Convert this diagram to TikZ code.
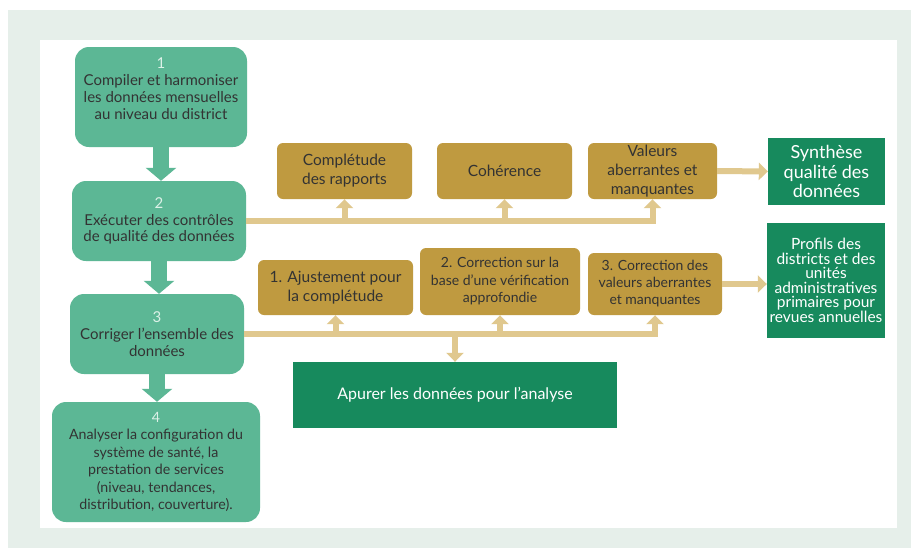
\documentclass[tikz,border=0pt]{standalone}
\usepackage{fontspec}
\setmainfont{Lato}
\usepackage{xcolor}
\usetikzlibrary{arrows.meta, positioning}

\definecolor{pagebg}{HTML}{E6EFEA}
\definecolor{stepgreen}{HTML}{5CB795}
\definecolor{stepnum}{HTML}{DDF1E8}
\definecolor{checkgold}{HTML}{BF9A40}
\definecolor{linktan}{HTML}{E0C88E}
\definecolor{outgreen}{HTML}{178A5D}
\definecolor{textdark}{HTML}{333333}

\begin{document}
\begin{tikzpicture}[
    x=1pt, y=-1pt,
    stepbox/.style={fill=stepgreen, rounded corners=14pt, align=center, text=textdark, inner sep=1pt, font=\fontsize{15}{16.8}\selectfont},
    checkbox/.style={fill=checkgold, rounded corners=6pt, align=center, text=textdark, inner sep=1pt, font=\fontsize{15.5}{19}\selectfont},
    outbox/.style={fill=outgreen, align=center, text=white, inner sep=1pt, font=\fontsize{18}{19.5}\selectfont},
    flow/.style={draw=stepgreen, line width=16pt, -{Triangle[width=30pt,length=13pt]}},
    feed/.style={draw=linktan, line width=6pt},
    feedarrow/.style={feed, -{Triangle[width=17pt,length=9pt]}}
]
    \useasboundingbox (0,0) rectangle (919,555);
    \fill[pagebg] (8,10) rectangle (911,548);
    \fill[white] (40,40) rectangle (897,528);

    % Main steps
    \node[stepbox, minimum width=172pt, minimum height=100pt] (compile) at (161,97) {{\color{stepnum}1}\\Compiler et harmoniser\\les données mensuelles\\au niveau du district\\~};
    \node[stepbox, minimum width=174pt, minimum height=80pt] (check) at (159,221) {{\color{stepnum}2}\\Exécuter des contrôles\\de qualité des données};
    \node[stepbox, minimum width=174pt, minimum height=80pt] (correct) at (157,334) {{\color{stepnum}3}\\Corriger l'ensemble des\\données};
    \node[stepbox, minimum width=208pt, minimum height=120pt, font=\fontsize{14.2}{17.5}\selectfont] (analyse) at (156,462) {{\color{stepnum}4}\\Analyser la configuration du\\système de santé, la\\prestation de services\\(niveau, tendances,\\distribution, couverture).};

    % Quality checks
    \node[checkbox, minimum width=135pt, minimum height=56pt] (completude) at (344.5,171) {Complétude\\des rapports};
    \node[checkbox, minimum width=135pt, minimum height=56pt] (coherence) at (504.5,171) {Cohérence};
    \node[checkbox, minimum width=129pt, minimum height=56pt] (valeurs) at (652.5,171) {Valeurs\\aberrantes et\\manquantes};

    % Corrections
    \node[checkbox, minimum width=155pt, minimum height=55pt] (ajust) at (335.5,287.5) {1. Ajustement pour\\la complétude};
    \node[checkbox, minimum width=160pt, minimum height=67pt, font=\fontsize{14}{17.5}\selectfont] (verif) at (500,281.5) {2. Correction sur la\\base d'une vérification\\approfondie};
    \node[checkbox, minimum width=134pt, minimum height=62pt, font=\fontsize{14}{17}\selectfont] (aberr) at (655,284) {3. Correction des\\valeurs aberrantes\\et manquantes};

    % Outputs
    \node[outbox, minimum width=117pt, minimum height=67pt] (synthese) at (826.5,171.5) {Synthèse\\qualité des\\données};
    \node[outbox, minimum width=118pt, minimum height=115pt, font=\fontsize{15.5}{14.5}\selectfont] (profils) at (826,280.5) {Profils des\\districts et des\\unités\\administratives\\primaires pour\\revues annuelles};
    \node[outbox, minimum width=324pt, minimum height=66pt, font=\fontsize{16}{19}\selectfont] (apurer) at (455,395) {Apurer les données pour l'analyse};

    % Step arrows
    \draw[flow] (compile.south) -- (compile.south |- check.north);
    \draw[flow] (check.south) -- (check.south |- correct.north);
    \draw[flow] (correct.south) -- (correct.south |- analyse.north);

    % Checks branch
    \draw[feedarrow] (check.east) -| (valeurs.south);
    \draw[feedarrow] (check.east -| completude) -- (completude.south);
    \draw[feedarrow] (check.east -| coherence) -- (coherence.south);
    \draw[feedarrow] (valeurs.east) -- (synthese.west);

    % Corrections branch
    \draw[feedarrow] (correct.east) -| (aberr.south);
    \draw[feedarrow] (correct.east -| ajust) -- (ajust.south);
    \draw[feedarrow] (correct.east -| verif) -- (verif.south);
    \draw[feedarrow] (correct.east -| apurer) -- (apurer.north);
    \draw[feedarrow] (aberr.east) -- (aberr.east -| profils.west);

\end{tikzpicture}
\end{document}
